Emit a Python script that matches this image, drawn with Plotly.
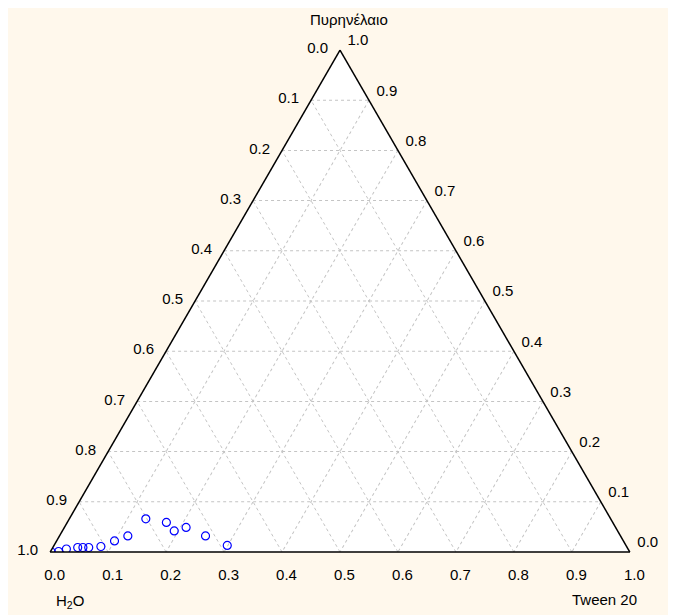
import plotly.graph_objects as go

# Composition data (fractions): oil (Πυρηνέλαιο), water (H2O), Tween 20
oil = [0.000, 0.001, 0.006, 0.009, 0.009, 0.009, 0.011, 0.022, 0.032, 0.066, 0.059, 0.042, 0.049, 0.032, 0.013]
tween = [0.002, 0.014, 0.025, 0.043, 0.052, 0.062, 0.082, 0.100, 0.118, 0.132, 0.171, 0.193, 0.210, 0.252, 0.299]
water = [round(1 - o - t, 4) for o, t in zip(oil, tween)]

tick_vals = [0.0, 0.1, 0.2, 0.3, 0.4, 0.5, 0.6, 0.7, 0.8, 0.9, 1.0]
tick_text = ["1.0", "0.9", "0.8", "0.7", "0.6", "0.5", "0.4", "0.3", "0.2", "0.1", "0.0"]

FONT = "Liberation Sans, Arial, sans-serif"

L, R, T, B = 42, 54, 42, 71
W, H = 676, 615
PW, PH = W - L - R, H - T - B


def px(x):
    return (x - L) / PW


def py(y):
    return (H - B - y) / PH


fig = go.Figure()
fig.add_trace(go.Scatterternary(
    a=oil, b=water, c=tween,
    mode="markers",
    marker=dict(symbol="circle-open", size=8, color="#0000FF", line=dict(width=1.2, color="#0000FF")),
    showlegend=False,
    hoverinfo="a+b+c",
))

axis_common = dict(
    tickmode="array",
    tickvals=tick_vals,
    ticktext=tick_text,
    ticks="outside",
    ticklen=9,
    tickcolor="rgba(0,0,0,0)",
    linecolor="black",
    linewidth=1.5,
    showline=True,
    showgrid=True,
    gridcolor="#C4C4C4",
    griddash="dot",
    gridwidth=1,
    tickfont=dict(family=FONT, size=15, color="#000000"),
    min=0,
    title=dict(text=""),
)

fig.update_layout(
    width=W, height=H,
    paper_bgcolor="#FFF8EC",
    margin=dict(l=L, r=R, t=T, b=B),
    font=dict(family=FONT, size=14, color="#000000"),
    ternary=dict(
        bgcolor="#FFFFFF",
        sum=1,
        aaxis=axis_common,
        baxis=axis_common,
        caxis=axis_common,
    ),
    annotations=[
        dict(text="Πυρηνέλαιο", x=px(341), y=py(11), xref="paper", yref="paper",
             showarrow=False, xanchor="center", yanchor="middle",
             font=dict(family=FONT, size=15, color="#000000")),
        dict(text="H<sub>2</sub>O", x=px(62), y=py(593), xref="paper", yref="paper",
             showarrow=False, xanchor="center", yanchor="middle",
             font=dict(family=FONT, size=15, color="#000000")),
        dict(text="Tween 20", x=px(631), y=py(591), xref="paper", yref="paper",
             showarrow=False, xanchor="right", yanchor="middle",
             font=dict(family=FONT, size=15, color="#000000")),
    ],
)

fig.write_html("out.html")
